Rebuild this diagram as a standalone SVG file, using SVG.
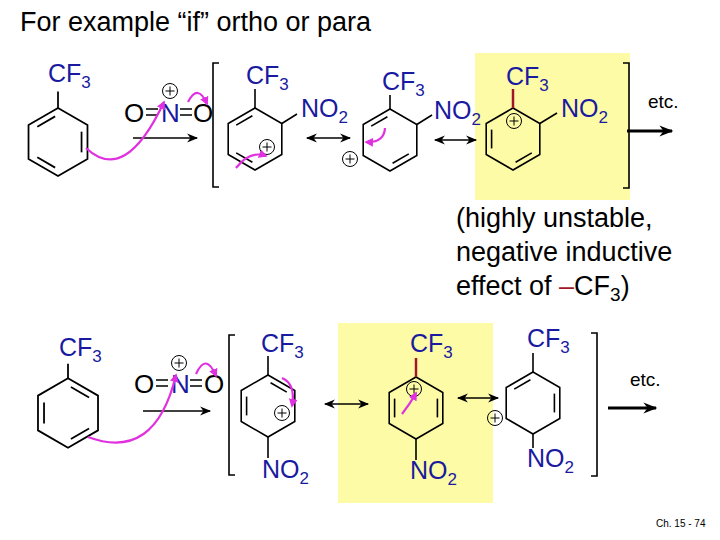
<svg xmlns="http://www.w3.org/2000/svg" width="720" height="540" viewBox="0 0 720 540">
<style>
text{font-family:"Liberation Sans",Arial,sans-serif}
.b{fill:#1a1aa0;font-size:25px}
.k{fill:#000}
.hex{fill:none;stroke:#000;stroke-width:1.6}
.db{stroke:#000;stroke-width:1.6}
.ln{stroke:#000;stroke-width:1.6;fill:none}
.pl{fill:none;stroke:#000;stroke-width:1}
.pk{fill:none;stroke:#e030e0;stroke-width:2.2;marker-end:url(#pm)}
.br{fill:none;stroke:#000;stroke-width:1.6}
</style>
<defs>
<marker id="pm" viewBox="0 0 10 10" refX="8" refY="5" markerWidth="4" markerHeight="4" orient="auto"><path d="M0,0L10,5L0,10z" fill="#e030e0"/></marker>
<marker id="ah" viewBox="0 0 10 10" refX="9" refY="5" markerWidth="9" markerHeight="7" orient="auto" markerUnits="userSpaceOnUse"><path d="M0,1L10,5L0,9L3,5z" fill="#000"/></marker>
<marker id="ah2" viewBox="0 0 10 10" refX="9" refY="5" markerWidth="14" markerHeight="11" orient="auto" markerUnits="userSpaceOnUse"><path d="M0,1L10,5L0,9L3,5z" fill="#000"/></marker>
<marker id="ah3" viewBox="0 0 10 10" refX="9" refY="5" markerWidth="22" markerHeight="14" orient="auto" markerUnits="userSpaceOnUse"><path d="M0,1L10,5L0,9L3,5z" fill="#000"/></marker>
<marker id="at" viewBox="0 0 10 10" refX="1" refY="5" markerWidth="14" markerHeight="11" orient="auto" markerUnits="userSpaceOnUse"><path d="M10,1L0,5L10,9L7,5z" fill="#000"/></marker>
<path id="hx" class="hex" d="M0,-31L26.8,-15.5L26.8,15.5L0,31L-26.8,15.5L-26.8,-15.5Z"/>
<line id="e1" class="db" x1="2.6" y1="-23.3" x2="18.8" y2="-13.9"/>
<line id="e2" class="db" x1="21.4" y1="-9.4" x2="21.4" y2="9.4"/>
<line id="e3" class="db" x1="18.8" y1="13.9" x2="2.6" y2="23.3"/>
<line id="e4" class="db" x1="-2.6" y1="23.3" x2="-18.8" y2="13.9"/>
<line id="e5" class="db" x1="-21.4" y1="9.4" x2="-21.4" y2="-9.4"/>
<line id="e6" class="db" x1="-18.8" y1="-13.9" x2="-2.6" y2="-23.3"/>
<g id="plus"><circle r="7.5" class="pl"/><path d="M-4.5,0H4.5M0,-4.5V4.5" class="pl"/></g>
</defs>
<rect width="720" height="540" fill="#fff"/>
<rect x="475" y="53" width="155" height="147" fill="#fdfba6"/>
<rect x="338" y="323" width="155" height="180" fill="#fdfba6"/>
<text x="20" y="31" font-size="27" class="k">For example “if” ortho or para</text>

<g id="r1" transform="translate(58,142) scale(1.1)"><use href="#hx"/><use href="#e6"/><use href="#e2"/><use href="#e4"/><line class="ln" x1="0" y1="-31" x2="0" y2="-46"/></g>
<text x="48" y="82" class="b">CF<tspan font-size="17" dy="6">3</tspan></text>

<g id="no2a"><text x="124" y="122" font-size="26" class="k">O</text><text x="161" y="122" font-size="26" fill="#1a1aa0">N</text><text x="193" y="122" font-size="26" class="k">O</text>
<path d="M146,109H158M146,115H158M180,109H192M180,115H192" class="db" stroke-width="1.3"/><use href="#plus" x="170" y="91"/></g>
<line x1="133" y1="138" x2="197" y2="138" class="ln" marker-end="url(#ah2)"/>

<path class="br" d="M219,63H213V187H219"/>
<g id="r2" transform="translate(255,139)"><use href="#hx"/><use href="#e6"/><use href="#e4"/><line class="ln" x1="0" y1="-31" x2="0" y2="-50"/><line class="ln" x1="26.8" y1="-15.5" x2="42" y2="-25"/><use href="#plus" x="12" y="8"/></g>
<text x="246" y="84" class="b">CF<tspan font-size="17" dy="6">3</tspan></text>
<text x="301" y="117" class="b">NO<tspan font-size="17" dy="6">2</tspan></text>
<line x1="307" y1="138" x2="350" y2="138" class="ln" marker-end="url(#ah2)" marker-start="url(#at)"/>
<use href="#plus" x="350" y="159"/>

<g id="r3" transform="translate(390,140)"><use href="#hx"/><use href="#e6"/><use href="#e3"/><line class="ln" x1="0" y1="-31" x2="0" y2="-45"/><line class="ln" x1="26.8" y1="-15.5" x2="42" y2="-25"/></g>
<text x="382" y="90" class="b">CF<tspan font-size="17" dy="6">3</tspan></text>
<text x="434" y="119" class="b">NO<tspan font-size="17" dy="6">2</tspan></text>
<line x1="435" y1="140" x2="476" y2="140" class="ln" marker-end="url(#ah2)" marker-start="url(#at)"/>

<g id="r4" transform="translate(513,139)"><use href="#hx"/><use href="#e5"/><use href="#e3"/><line x1="0" y1="-31" x2="0" y2="-50" stroke="#a01828" stroke-width="2.5"/><line class="ln" x1="26.8" y1="-15.5" x2="44" y2="-26"/><use href="#plus" x="1" y="-18"/></g>
<text x="506" y="85" class="b">CF<tspan font-size="17" dy="6">3</tspan></text>
<text x="561" y="117" class="b">NO<tspan font-size="17" dy="6">2</tspan></text>
<path class="br" d="M623,63H629V188H623"/>
<line x1="627" y1="131" x2="672" y2="131" stroke="#000" stroke-width="3" marker-end="url(#ah3)"/>
<text x="648" y="108" font-size="19" class="k">etc.</text>

<text font-size="27" class="k"><tspan x="456" y="227">(highly unstable,</tspan><tspan x="456" y="261">negative inductive</tspan><tspan x="456" y="295">effect of <tspan fill="#a01828">–</tspan>CF<tspan font-size="19" dy="6">3</tspan><tspan dy="-6">)</tspan></tspan></text>

<g id="r5" transform="translate(68,413) scale(1.12)"><use href="#hx"/><use href="#e1"/><use href="#e5"/><use href="#e3"/><line class="ln" x1="0" y1="-31" x2="0" y2="-44"/></g>
<text x="59" y="356" class="b">CF<tspan font-size="17" dy="6">3</tspan></text>
<g id="no2b"><text x="134" y="393" font-size="26" class="k">O</text><text x="171" y="393" font-size="26" fill="#1a1aa0">N</text><text x="204" y="393" font-size="26" class="k">O</text>
<path d="M156,380H168M156,386H168M190,380H202M190,386H202" class="db" stroke-width="1.3"/><use href="#plus" x="179" y="363"/></g>
<line x1="143" y1="411" x2="210" y2="411" class="ln" marker-end="url(#ah2)"/>

<path class="br" d="M235,335H229V475H235"/>
<g id="r6" transform="translate(268,406)"><use href="#hx"/><use href="#e1"/><use href="#e5"/><line class="ln" x1="0" y1="-31" x2="0" y2="-50"/><line class="ln" x1="0" y1="31" x2="0" y2="52"/><use href="#plus" x="14" y="7"/></g>
<text x="261" y="352" class="b">CF<tspan font-size="17" dy="6">3</tspan></text>
<text x="262" y="478" class="b">NO<tspan font-size="17" dy="6">2</tspan></text>
<line x1="325" y1="404" x2="368" y2="404" class="ln" marker-end="url(#ah2)" marker-start="url(#at)"/>

<g id="r7" transform="translate(416,408)"><use href="#hx"/><use href="#e5"/><use href="#e2"/><line x1="0" y1="-31" x2="0" y2="-50" stroke="#a01828" stroke-width="2.5"/><line class="ln" x1="0" y1="31" x2="0" y2="52"/><use href="#plus" x="-2" y="-19"/></g>
<text x="410" y="352" class="b">CF<tspan font-size="17" dy="6">3</tspan></text>
<text x="410" y="479" class="b">NO<tspan font-size="17" dy="6">2</tspan></text>
<line x1="458" y1="398" x2="498" y2="398" class="ln" marker-end="url(#ah2)" marker-start="url(#at)"/>
<use href="#plus" x="495" y="418"/>

<g id="r8" transform="translate(533,403)"><use href="#hx"/><use href="#e6"/><use href="#e2"/><line class="ln" x1="0" y1="-31" x2="0" y2="-50"/><line class="ln" x1="0" y1="31" x2="0" y2="45"/></g>
<text x="527" y="347" class="b">CF<tspan font-size="17" dy="6">3</tspan></text>
<text x="527" y="467" class="b">NO<tspan font-size="17" dy="6">2</tspan></text>
<path class="br" d="M591,333H597V476H591"/>
<line x1="608" y1="408" x2="656" y2="408" stroke="#000" stroke-width="3" marker-end="url(#ah3)"/>
<text x="630" y="386" font-size="19" class="k">etc.</text>

<g id="arrows">
<path class="pk" d="M86,148 Q125,185 164,102"/>
<path class="pk" d="M188,102 Q198,83 207,104"/>
<path class="pk" d="M236,168 Q250,150 266,156"/>
<path class="pk" d="M385,128 Q384,143 366,142"/>
<path class="pk" d="M88,437 Q155,462 176,375"/>
<path class="pk" d="M196,374 Q206,352 216,376"/>
<path class="pk" d="M282,378 Q296,384 292,406"/>
<path class="pk" d="M402,414 Q410,404 416,393"/>
</g>
<text x="656" y="527" font-size="10" class="k">Ch. 15 - 74</text>
</svg>
